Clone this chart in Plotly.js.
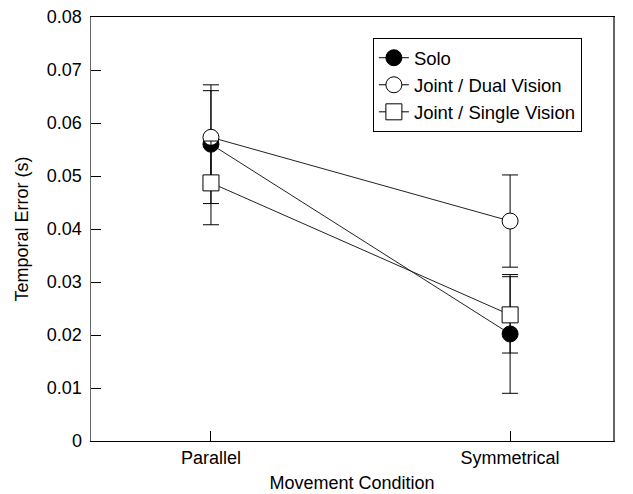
<!DOCTYPE html>
<html>
<head>
<meta charset="utf-8">
<script src="https://cdn.plot.ly/plotly-3.0.1.min.js"></script>
<style>html,body{margin:0;padding:0;background:#fff;}#chart{width:633px;height:494px;}</style>
</head>
<body>
<div id="chart"></div>
<script>
const categories = ["Parallel", "Symmetrical"];
const soloMean = [0.0560, 0.0202];
const soloErr = [0.0112, 0.0112];
const dualMean = [0.0573, 0.0415];
const dualErr = [0.0088, 0.0087];
const singleMean = [0.0487, 0.0238];
const singleErr = [0.0079, 0.0072];
const yTickVals = [0, 0.01, 0.02, 0.03, 0.04, 0.05, 0.06, 0.07, 0.08];
const yTickText = ["0", "0.01", "0.02", "0.03", "0.04", "0.05", "0.06", "0.07", "0.08"];

const xIdx = categories.map((c, i) => i);

function trace(name, y, err, symbol, fill) {
  return {
    type: 'scatter', mode: 'lines+markers', name: name, showlegend: false,
    x: xIdx, y: y,
    line: {color: '#222', width: 1},
    marker: {symbol: symbol, size: 16, color: fill, line: {color: '#000', width: 1}},
    error_y: {type: 'data', array: err, symmetric: true, color: '#000', thickness: 1, width: 8},
    cliponaxis: false
  };
}
function legendTrace(name, symbol, fill) {
  return {
    type: 'scatter', mode: 'lines+markers', name: name,
    x: [null], y: [null],
    line: {color: '#000', width: 1},
    marker: {symbol: symbol, size: 16, color: fill, line: {color: '#000', width: 1}}
  };
}

const data = [
  trace('Solo', soloMean, soloErr, 'circle', '#000'),
  trace('Joint / Dual Vision', dualMean, dualErr, 'circle', '#fff'),
  trace('Joint / Single Vision', singleMean, singleErr, 'square', '#fff'),
  legendTrace('Solo', 'circle', '#000'),
  legendTrace('Joint / Dual Vision', 'circle', '#fff'),
  legendTrace('Joint / Single Vision', 'square', '#fff')
];

const layout = {
  width: 633, height: 494,
  margin: {l: 91, r: 20, t: 17, b: 53},
  paper_bgcolor: '#fff', plot_bgcolor: '#fff',
  font: {family: 'Liberation Sans, Arial, sans-serif', size: 18, color: '#000'},
  showlegend: true,
  legend: {
    x: 0.540, y: 0.950, xanchor: 'left', yanchor: 'top',
    bordercolor: '#000', borderwidth: 1, bgcolor: '#fff',
    font: {size: 18.5}, tracegroupgap: 0, itemwidth: 30
  },
  xaxis: {
    range: [-0.401, 1.344],
    tickvals: xIdx, ticktext: categories,
    ticks: 'inside', ticklen: 10, tickcolor: '#000', tickwidth: 1,
    showline: true, linecolor: '#000', linewidth: 1, mirror: true,
    showgrid: false, zeroline: false,
    tickfont: {size: 18}, ticklabelstandoff: 0,
    title: {text: 'Movement Condition', font: {size: 18}, standoff: 9}
  },
  yaxis: {
    range: [0, 0.08],
    tickvals: yTickVals, ticktext: yTickText,
    ticks: 'inside', ticklen: 10, tickcolor: '#000', tickwidth: 1,
    showline: true, linecolor: '#666', linewidth: 1.5, mirror: true,
    showgrid: false, zeroline: false,
    tickfont: {size: 18}, ticklabelstandoff: 4,
    title: {text: 'Temporal Error (s)', font: {size: 18}, standoff: 13}
  }
};

Plotly.newPlot('chart', data, layout, {displayModeBar: false, staticPlot: true});
</script>
</body>
</html>
